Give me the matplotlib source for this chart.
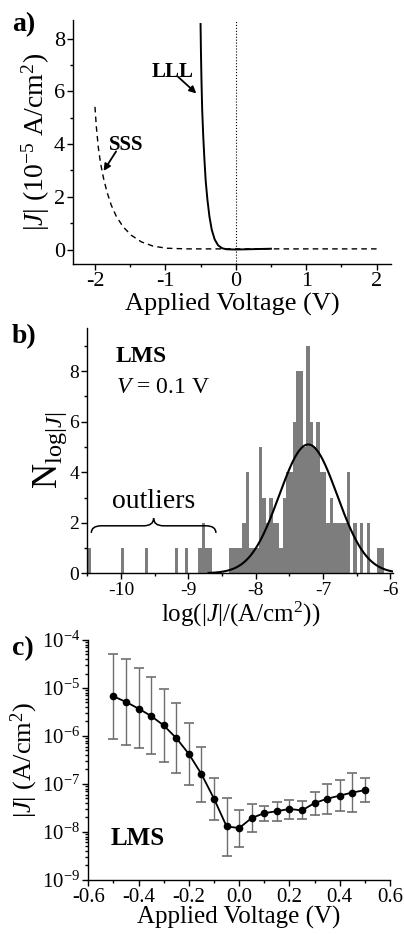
import numpy as np
import matplotlib
matplotlib.use("Agg")
import matplotlib.pyplot as plt
from matplotlib.path import Path
from matplotlib.patches import PathPatch
from matplotlib.ticker import MultipleLocator, LogLocator, LogFormatterMathtext, NullFormatter

plt.rcParams['font.family'] = ['Liberation Serif', 'DejaVu Serif']
plt.rcParams['mathtext.fontset'] = 'custom'
plt.rcParams['mathtext.rm'] = 'Liberation Serif'
plt.rcParams['mathtext.it'] = 'Liberation Serif:italic'
plt.rcParams['mathtext.bf'] = 'Liberation Serif:bold'
plt.rcParams['axes.unicode_minus'] = False
plt.rcParams['axes.linewidth'] = 1.0

# ---------------------------
# Data: panel a (J-V curves, 10^-5 A/cm^2)
# ---------------------------
lll_v = [-0.50, -0.495, -0.487, -0.477, -0.462, -0.445, -0.427, -0.403, -0.374,
         -0.341, -0.299, -0.251, -0.194, -0.133, 0.0, 0.5]
lll_j = [8.55, 7.55, 6.4, 5.3, 4.3, 3.4, 2.6, 1.9, 1.25,
         0.75, 0.38, 0.16, 0.05, 0.01, 0.0, 0.03]

sss_v = [-2.0, -1.98, -1.953, -1.92, -1.877, -1.83, -1.768, -1.697, -1.60,
         -1.483, -1.341, -1.175, -0.986, -0.70, 0.0, 2.0]
sss_j = [5.41, 4.65, 3.89, 3.26, 2.69, 2.19, 1.68, 1.26, 0.86,
         0.54, 0.29, 0.13, 0.05, 0.025, 0.025, 0.025]

# ---------------------------
# Data: panel b (histogram of log|J|, bin width 0.05)
# ---------------------------
bin_width = 0.05
outlier_left = [-10.50, -10.00, -9.65, -9.20, -9.05, -8.85, -8.80, -8.75, -8.70]
outlier_count = [1, 1, 1, 1, 1, 1, 2, 1, 1]

main_left = [-8.40, -8.35, -8.30, -8.25, -8.20, -8.15, -8.10, -8.05, -8.00, -7.95,
             -7.90, -7.85, -7.80, -7.75, -7.70, -7.65, -7.60, -7.55, -7.50, -7.45,
             -7.40, -7.35, -7.30, -7.25, -7.20, -7.15, -7.10, -7.05, -7.00, -6.95,
             -6.90, -6.85, -6.80, -6.75, -6.70, -6.65, -6.60, -6.55, -6.50, -6.45,
             -6.40, -6.35, -6.30, -6.25, -6.20, -6.15]
main_count = [1, 1, 1, 1, 2, 4, 1, 1, 1, 5,
              3, 2, 3, 2, 2, 1, 3, 4, 4, 6,
              8, 8, 5, 9, 6, 5, 6, 4, 4, 2,
              3, 2, 2, 2, 2, 4, 0, 2, 0, 2,
              0, 2, 0, 0, 1, 1]

# gaussian fit parameters
fit_center = -7.22
fit_sigma = 0.43
fit_height = 5.1

# ---------------------------
# Data: panel c (mean |J| with spread, A/cm^2)
# ---------------------------
volt_c = [-0.50, -0.45, -0.40, -0.35, -0.30, -0.25, -0.20, -0.15, -0.10, -0.05, 0.00,
          0.05, 0.10, 0.15, 0.20, 0.25, 0.30, 0.35, 0.40, 0.45, 0.50]
j_mean = [6.7e-6, 5.1e-6, 3.7e-6, 2.6e-6, 1.65e-6, 9.0e-7, 4.2e-7, 1.6e-7, 4.9e-8, 1.3e-8, 1.2e-8,
          1.95e-8, 2.45e-8, 2.7e-8, 3.0e-8, 2.8e-8, 4.0e-8, 4.9e-8, 5.7e-8, 6.6e-8, 7.4e-8]
j_high = [5.0e-5, 4.0e-5, 2.6e-5, 1.7e-5, 9.5e-6, 4.8e-6, 1.9e-6, 6.0e-7, 1.3e-7, 5.2e-8, 2.9e-8,
          3.9e-8, 3.5e-8, 4.2e-8, 4.7e-8, 4.3e-8, 6.8e-8, 1.0e-7, 1.2e-7, 1.66e-7, 1.3e-7]
j_low = [8.7e-7, 6.6e-7, 5.5e-7, 4.1e-7, 2.8e-7, 1.7e-7, 9.3e-8, 4.1e-8, 1.8e-8, 3.1e-9, 4.8e-9,
         9.8e-9, 1.65e-8, 1.7e-8, 1.85e-8, 1.85e-8, 2.3e-8, 2.4e-8, 2.7e-8, 2.6e-8, 4.1e-8]


def style_axes(ax, tick_size):
    ax.spines['top'].set_visible(False)
    ax.spines['right'].set_visible(False)
    ax.tick_params(which='major', direction='out', length=4, width=1, pad=2,
                   labelsize=tick_size)
    ax.tick_params(which='minor', direction='out', length=2, width=1)


def arrow(ax, start, tip):
    ax.annotate("", xy=tip, xytext=start,
                arrowprops=dict(arrowstyle='-|>', color='black', lw=1.3,
                                shrinkA=0, shrinkB=0, mutation_scale=10))


fig = plt.figure(figsize=(4.04, 9.34), dpi=100)

# ---------------------------
# Panel a
# ---------------------------
ax_a = fig.add_axes([0.181, 0.7173, 0.786, 0.2612])
ax_a.plot(lll_v, lll_j, color='black', lw=1.4)
ax_a.plot(sss_v, sss_j, color='black', lw=1.0, linestyle=(0, (4, 3)))
ax_a.axvline(0, color='black', lw=0.8, linestyle=':')
ax_a.set_xlim(-2.31, 2.2)
ax_a.set_ylim(-0.55, 8.7)
ax_a.xaxis.set_major_locator(MultipleLocator(1))
ax_a.xaxis.set_minor_locator(MultipleLocator(0.5))
ax_a.yaxis.set_major_locator(MultipleLocator(2))
ax_a.yaxis.set_minor_locator(MultipleLocator(1))
style_axes(ax_a, 16)
ax_a.set_xlabel("Applied Voltage (V)", fontsize=19, labelpad=1)
ax_a.set_ylabel(r"|$J$| (10$^{-5}$ A/cm$^{2}$)", fontsize=20, labelpad=1)
ax_a.text(-0.89, 6.74, "LLL", fontsize=15, fontweight='bold', ha='center', va='center')
arrow(ax_a, (-0.82, 6.55), (-0.56, 5.92))
ax_a.text(-1.55, 3.96, "SSS", fontsize=15, fontweight='bold', ha='center', va='center')
arrow(ax_a, (-1.70, 3.72), (-1.877, 2.98))

# ---------------------------
# Panel b
# ---------------------------
ax_b = fig.add_axes([0.216, 0.3862, 0.757, 0.2623])
ax_b.bar(outlier_left + main_left, outlier_count + main_count, width=bin_width,
         align='edge', color='#7d7d7d', linewidth=0)
xfit = np.linspace(-8.7, -5.97, 300)
ax_b.plot(xfit, fit_height * np.exp(-(xfit - fit_center) ** 2 / (2 * fit_sigma ** 2)),
          color='black', lw=1.5)
ax_b.set_xlim(-10.5, -5.96)
ax_b.set_ylim(0, 9.7)
ax_b.xaxis.set_major_locator(MultipleLocator(1))
ax_b.xaxis.set_minor_locator(MultipleLocator(0.5))
ax_b.yaxis.set_major_locator(MultipleLocator(2))
ax_b.yaxis.set_minor_locator(MultipleLocator(1))
style_axes(ax_b, 14)
ax_b.set_xlabel(r"log(|$J$|/(A/cm$^{2}$))", fontsize=18, labelpad=1)
ax_b.set_ylabel(r"N$_{\mathregular{log}|J|}$", fontsize=25, labelpad=0)
ax_b.text(-10.08, 8.6, "LMS", fontsize=17, fontweight='bold', ha='left', va='center')
ax_b.text(-10.08, 7.35, r"$V$ = 0.1 V", fontsize=17, ha='left', va='center')
ax_b.text(-9.52, 2.85, "outliers", fontsize=20, ha='center', va='center')

# curly brace over the outliers
bx0, bx1, by0, byh, bytip, bdx = -10.44, -8.59, 1.6, 1.88, 2.18, 0.15
bxm = (bx0 + bx1) / 2
verts = [(bx0, by0), (bx0, byh), (bx0 + bdx, byh),
         (bxm - bdx, byh), (bxm, byh), (bxm, bytip),
         (bxm, byh), (bxm + bdx, byh),
         (bx1 - bdx, byh), (bx1, byh), (bx1, by0)]
codes = [Path.MOVETO, Path.CURVE3, Path.CURVE3,
         Path.LINETO, Path.CURVE3, Path.CURVE3,
         Path.CURVE3, Path.CURVE3,
         Path.LINETO, Path.CURVE3, Path.CURVE3]
ax_b.add_patch(PathPatch(Path(verts, codes), facecolor='none', edgecolor='black', lw=1.1))

# ---------------------------
# Panel c
# ---------------------------
ax_c = fig.add_axes([0.2186, 0.058, 0.7468, 0.2568])
j_mean_arr = np.array(j_mean)
yerr = [j_mean_arr - np.array(j_low), np.array(j_high) - j_mean_arr]
line, caps, bars = ax_c.errorbar(volt_c, j_mean, yerr=yerr, fmt='-o', color='black',
                                 ms=4.5, lw=1.3, ecolor='#6e6e6e', elinewidth=1.0,
                                 capsize=3.5, capthick=1.2)
for c in caps:
    c.set_color('#222222')
ax_c.set_yscale('log')
ax_c.set_xlim(-0.6, 0.6)
ax_c.set_ylim(1e-9, 1e-4)
ax_c.xaxis.set_major_locator(MultipleLocator(0.2))
ax_c.xaxis.set_minor_locator(MultipleLocator(0.1))
ax_c.xaxis.set_major_formatter(plt.FormatStrFormatter('%.1f'))
ax_c.yaxis.set_major_locator(LogLocator(base=10, numticks=10))
ax_c.yaxis.set_minor_locator(LogLocator(base=10, subs=np.arange(2, 10), numticks=20))
ax_c.yaxis.set_major_formatter(LogFormatterMathtext())
ax_c.yaxis.set_minor_formatter(NullFormatter())
style_axes(ax_c, 15)
ax_c.set_xlabel("Applied Voltage (V)", fontsize=18, labelpad=-1)
ax_c.set_ylabel(r"|$J$| (A/cm$^{2}$)", fontsize=19, labelpad=1)
ax_c.text(-0.513, 10 ** -8.14, "LMS", fontsize=18, fontweight='bold', ha='left', va='center')

# panel letters
fig.text(0.03, 0.987, "a)", fontsize=20, fontweight='bold', ha='left', va='top')
fig.text(0.03, 0.653, "b)", fontsize=20, fontweight='bold', ha='left', va='top')
fig.text(0.03, 0.319, "c)", fontsize=20, fontweight='bold', ha='left', va='top')

fig.savefig("out.png", dpi=100)
